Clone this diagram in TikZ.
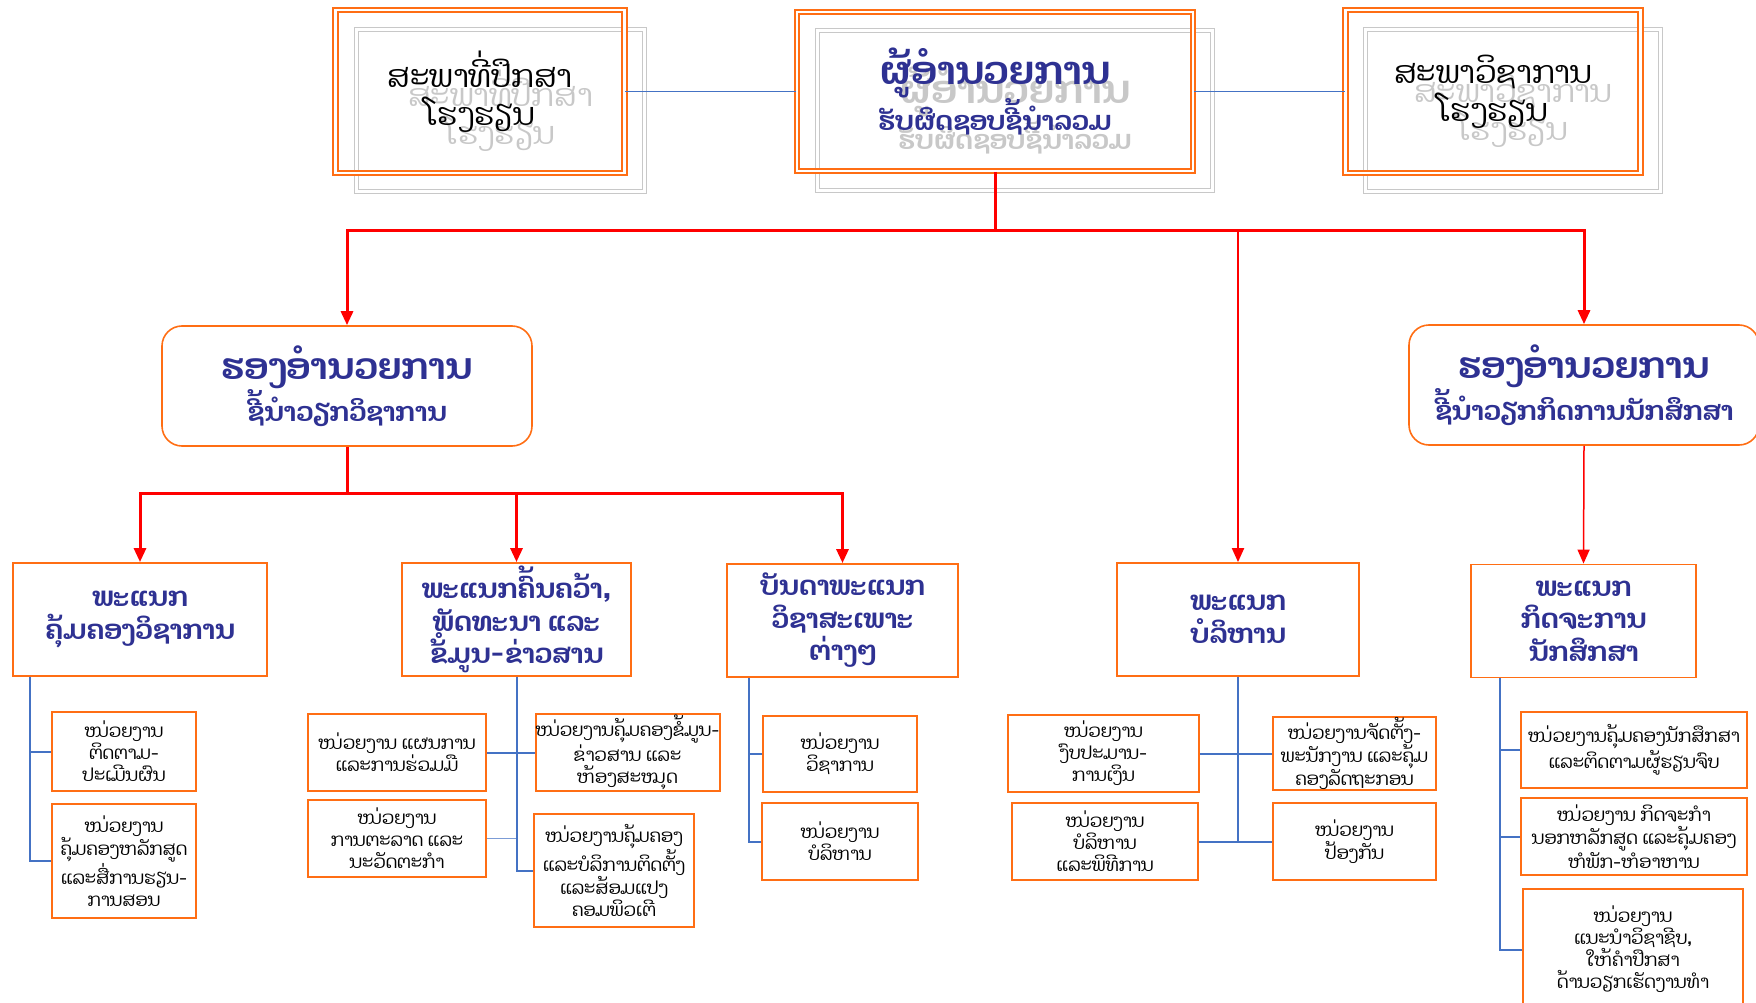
\documentclass[tikz,border=0pt]{standalone}
\usepackage{fontspec}
\newfontfamily\laofont[Script=Lao]{Dhyana}
\usetikzlibrary{arrows.meta}
\definecolor{boxOrange}{RGB}{255,110,20}
\definecolor{textNavy}{RGB}{46,49,146}
\definecolor{linkBlue}{RGB}{68,114,196}
\definecolor{shadeGray}{RGB}{200,200,200}

\begin{document}
\begin{tikzpicture}[
    x=1pt, y=-1pt,
    >={Triangle[width=12pt,length=14pt]},
    head box/.style={draw=boxOrange, double=white, line width=1.8pt,
        double distance=2.6pt, inner sep=0pt, align=center},
    ghost box/.style={draw=shadeGray, double=white, line width=1.4pt,
        double distance=3pt, inner sep=0pt, align=center, text=shadeGray},
    vice box/.style={draw=boxOrange, line width=1.6pt, rounded corners=20pt,
        align=center, text=textNavy, minimum height=120pt,
        font=\laofont\bfseries\fontsize{26.5}{38}\selectfont},
    dept box/.style={draw=boxOrange, line width=1.8pt, align=center,
        text=textNavy, minimum height=113pt, inner sep=0pt,
        font=\laofont\bfseries\fontsize{27}{32.5}\selectfont},
    unit box/.style={draw=boxOrange, line width=2pt, align=center,
        inner sep=0pt, font=\laofont\fontsize{18}{22}\selectfont},
    red link/.style={red, line width=3pt},
    blue link/.style={linkBlue, line width=2pt},
]
\useasboundingbox (0,0) rectangle (1756,1003);

% ---- board level (with grey shadow copies) ----
\def\boardfont{\laofont\fontsize{31}{38}\selectfont}
\def\dirfont{\laofont\bfseries\fontsize{26.5}{43}\selectfont}
\node[ghost box, minimum width=288pt, minimum height=162pt, font=\boardfont]
    (advShade) at (500.5,110.5) {ສະພາທີ່ປຶກສາ\\ໂຮງຮຽນ};
\node[ghost box, minimum width=395pt, minimum height=160pt, font=\dirfont]
    (dirShade) at (1015,110.5)
    {{\fontsize{39}{43}\selectfont ຜູ້ອຳນວຍການ}\\ຮັບຜິດຊອບຊີ້ນຳລວມ};
\node[ghost box, minimum width=295pt, minimum height=162pt, font=\boardfont]
    (acadShade) at (1513,110.5) {ສະພາວິຊາການ\\ໂຮງຮຽນ};

\node[head box, minimum width=289pt, minimum height=163pt, font=\boardfont]
    (adv) at (480,91.5) {ສະພາທີ່ປຶກສາ\\ໂຮງຮຽນ};
\node[head box, minimum width=396pt, minimum height=159pt, text=textNavy,
    font=\dirfont] (dir) at (995,91.5)
    {{\fontsize{39}{43}\selectfont ຜູ້ອຳນວຍການ}\\ຮັບຜິດຊອບຊີ້ນຳລວມ};
\node[head box, minimum width=295pt, minimum height=163pt, font=\boardfont]
    (acad) at (1493,91.5) {ສະພາວິຊາການ\\ໂຮງຮຽນ};

\draw[blue link, line width=1.5pt] (adv.east) -- (dir.west);
\draw[blue link, line width=1.5pt] (dir.east) -- (acad.west);

% ---- vice directors ----
\node[vice box, minimum width=370pt] (vpa) at (347,386)
    {{\fontsize{36.5}{38}\selectfont ຮອງອຳນວຍການ}\\ຊີ້ນຳວຽກວິຊາການ};
\node[vice box, minimum width=350pt] (vps) at (1584,385)
    {{\fontsize{36.5}{38}\selectfont ຮອງອຳນວຍການ}\\ຊີ້ນຳວຽກກິດການນັກສຶກສາ};

% ---- departments ----
\node[dept box, minimum width=254pt] (dA) at (140,619.5)
    {ພະແນກ\\ຄຸ້ມຄອງວິຊາການ};
\node[dept box, minimum width=229pt] (dR) at (516.5,619.5)
    {ພະແນກຄົ້ນຄວ້າ,\\ພັດທະນາ ແລະ\\ຂໍ້ມູນ-ຂ່າວສານ};
\node[dept box, minimum width=231pt] (dS) at (842.5,620.5)
    {ບັນດາພະແນກ\\ວິຊາສະເພາະ\\ຕ່າງໆ};
\node[dept box, minimum width=242pt] (dM) at (1238,619.5)
    {ພະແນກ\\ບໍລິຫານ};
\node[dept box, minimum width=225pt] (dT) at (1583.5,621)
    {ພະແນກ\\ກິດຈະການ\\ນັກສຶກສາ};

% red lines from the director
\coordinate (topBus) at (995,231);
\draw[red link] (dir.south) -- (topBus);
\draw[red link, ->] (topBus) -| (vpa.north);
\draw[red link, ->] (topBus) -| (vps.north);
\draw[red link, line width=2pt, ->] (topBus -| dM.north) -- (dM.north);
\draw[red link, line width=1.5pt, ->] (vps.south) -- (dT.north);

\coordinate (viceBus) at (347,493);
\draw[red link] (vpa.south) -- (viceBus);
\draw[red link, ->] (viceBus) -| (dA.north);
\draw[red link, ->] (viceBus) -| (dR.north);
\draw[red link, ->] (viceBus) -| (dS.north);

% ---- units ----
\node[unit box, minimum width=144pt, minimum height=79pt] (u1) at (124,751.5)
    {ໜ່ວຍງານ\\ຕິດຕາມ-\\ປະເມີນຜົນ};
\node[unit box, minimum width=144pt, minimum height=114pt] (u2) at (124,861)
    {ໜ່ວຍງານ\\ຄຸ້ມຄອງຫລັກສູດ\\ແລະສື່ການຮຽນ-\\ການສອນ};
\node[unit box, minimum width=178pt, minimum height=77pt] (u3) at (397,752.5)
    {ໜ່ວຍງານ ແຜນການ\\ແລະການຮ່ວມມື};
\node[unit box, minimum width=179pt, minimum height=77pt] (u4) at (627.5,752.5)
    {ໜ່ວຍງານຄຸ້ມຄອງຂໍ້ມູນ-\\ຂ່າວສານ ແລະ\\ຫ້ອງສະໝຸດ};
\node[unit box, minimum width=178pt, minimum height=77pt] (u5) at (397,838.5)
    {ໜ່ວຍງານ\\ການຕະລາດ ແລະ\\ນະວັດຕະກຳ};
\node[unit box, minimum width=160pt, minimum height=113pt] (u6) at (614,870.5)
    {ໜ່ວຍງານຄຸ້ມຄອງ\\ແລະບໍລິການຕິດຕັ້ງ\\ແລະສ້ອມແປງ\\ຄອມພິວເຕີ};
\node[unit box, minimum width=154pt, minimum height=76pt] (u7) at (840,754)
    {ໜ່ວຍງານ\\ວິຊາການ};
\node[unit box, minimum width=156pt, minimum height=77pt] (u8) at (840,841.5)
    {ໜ່ວຍງານ\\ບໍລິຫານ};
\node[unit box, minimum width=191pt, minimum height=77pt] (u9) at (1103.5,753.5)
    {ໜ່ວຍງານ\\ງົບປະມານ-\\ການເງິນ};
\node[unit box, minimum width=163pt, minimum height=73pt] (u10) at (1354.5,753.5)
    {ໜ່ວຍງານຈັດຕັ້ງ-\\ພະນັກງານ ແລະຄຸ້ມ\\ຄອງລັດຖະກອນ};
\node[unit box, minimum width=186pt, minimum height=77pt] (u11) at (1105,841.5)
    {ໜ່ວຍງານ\\ບໍລິຫານ\\ແລະພິທີການ};
\node[unit box, minimum width=163pt, minimum height=77pt] (u12) at (1354.5,841.5)
    {ໜ່ວຍງານ\\ປ້ອງກັນ};
\node[unit box, minimum width=226pt, minimum height=76pt] (u13) at (1634,750)
    {ໜ່ວຍງານຄຸ້ມຄອງນັກສຶກສາ\\ແລະຕິດຕາມຜູ້ຮຽນຈົບ};
\node[unit box, minimum width=226pt, minimum height=77pt] (u14) at (1634,836.5)
    {ໜ່ວຍງານ ກິດຈະກຳ\\ນອກຫລັກສູດ ແລະຄຸ້ມຄອງ\\ຫໍພັກ-ຫໍອາຫານ};
\node[unit box, minimum width=220pt, minimum height=121pt] (u15) at (1633,949.5)
    {ໜ່ວຍງານ\\ແນະນຳວິຊາຊີບ,\\ໃຫ້ຄຳປຶກສາ\\ດ້ານວຽກເຮັດງານທຳ};

% blue lines down to the units
\draw[blue link] ([xshift=18pt]dA.south west) |- (u1.west);
\draw[blue link] ([xshift=18pt]dA.south west) |- (u2.west);
\draw[blue link] (dR.south) |- (u3.east);
\draw[blue link] (dR.south) |- (u4.west);
\draw[blue link, line width=1pt, linkBlue!70] (dR.south) |- (u5.east);
\draw[blue link] (dR.south) |- (u6.west);
\draw[blue link] ([xshift=23pt]dS.south west) |- (u7.west);
\draw[blue link] ([xshift=23pt]dS.south west) |- (u8.west);
\draw[blue link] (dM.south) |- (u9.east);
\draw[blue link] (dM.south) |- (u10.west);
\draw[blue link] (dM.south) |- (u11.east);
\draw[blue link] (dM.south) |- (u12.west);
\draw[blue link] ([xshift=30pt]dT.south west) |- (u13.west);
\draw[blue link] ([xshift=30pt]dT.south west) |- (u14.west);
\draw[blue link] ([xshift=30pt]dT.south west) |- (u15.west);

\end{tikzpicture}
\end{document}
